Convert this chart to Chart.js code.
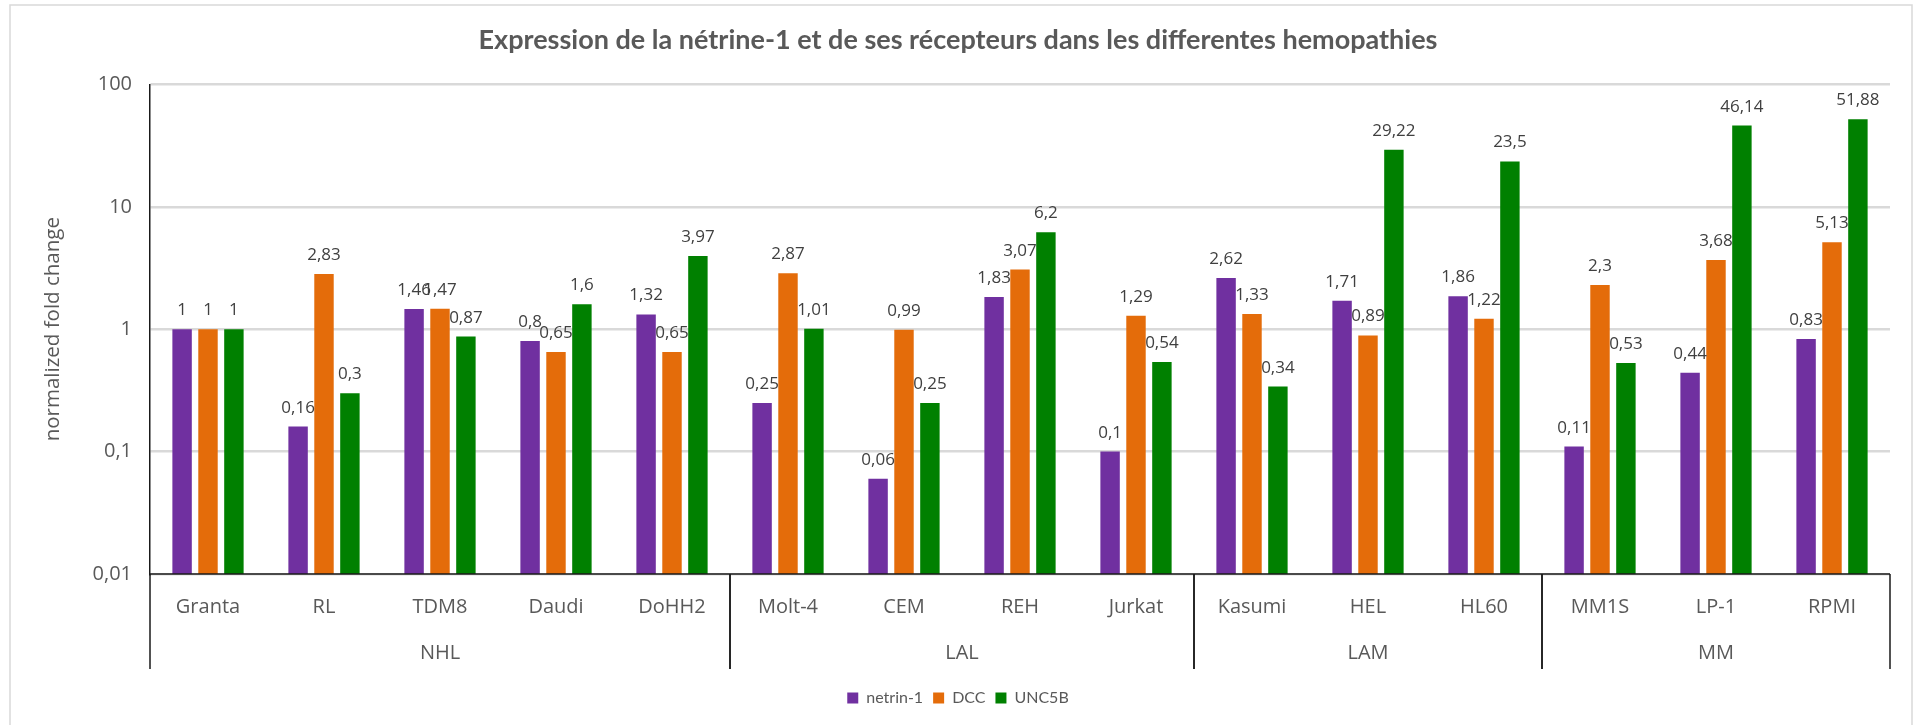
<!DOCTYPE html>
<html>
<head>
<meta charset="utf-8">
<title>Netrine-1 expression</title>
<script src="https://cdn.jsdelivr.net/npm/chart.js@4.4.1/dist/chart.umd.min.js"></script>
<style>
    html, body { margin: 0; padding: 0; background: #fff; }
</style>
</head>
<body>
<canvas id="expressionChart" width="1914" height="725"></canvas>
<script>
// Cell lines, grouped by hemopathy
const cellLines = ['Granta', 'RL', 'TDM8', 'Daudi', 'DoHH2', 'Molt-4', 'CEM', 'REH', 'Jurkat', 'Kasumi', 'HEL', 'HL60', 'MM1S', 'LP-1', 'RPMI'];
const groupNames = ['NHL', 'LAL', 'LAM', 'MM'];
const groupSizes = [5, 4, 3, 3];

// normalized fold change per receptor
const netrin1 = [1, 0.16, 1.46, 0.8, 1.32, 0.25, 0.06, 1.83, 0.1, 2.62, 1.71, 1.86, 0.11, 0.44, 0.83];
const dcc = [1, 2.83, 1.47, 0.65, 0.65, 2.87, 0.99, 3.07, 1.29, 1.33, 0.89, 1.22, 2.3, 3.68, 5.13];
const unc5b = [1, 0.3, 0.87, 1.6, 3.97, 1.01, 0.25, 6.2, 0.54, 0.34, 29.22, 23.5, 0.53, 46.14, 51.88];

const yTicks = [0.01, 0.1, 1, 10, 100];

const textGrey = '#595959';

function frNumber(v) {
    return String(v).replace('.', ',');
}

// white background + light frame around the whole chart
const framePlugin = {
    id: 'frame',
    beforeDraw(chart) {
        const c = chart.ctx;
        c.save();
        c.fillStyle = '#fff';
        c.fillRect(0, 0, chart.width, chart.height);
        c.strokeStyle = '#d9d9d9';
        c.lineWidth = 1.5;
        c.strokeRect(10, 5, chart.width - 12, chart.height + 10);
        c.restore();
    }
};

// value labels above each bar
const valueLabels = {
    id: 'valueLabels',
    afterDatasetsDraw(chart) {
        const c = chart.ctx;
        c.save();
        c.font = '17px "Open Sans"';
        c.fillStyle = '#404040';
        c.textAlign = 'center';
        c.textBaseline = 'alphabetic';
        chart.data.datasets.forEach((ds, i) => {
            chart.getDatasetMeta(i).data.forEach((bar, j) => {
                c.fillText(frNumber(ds.data[j]), bar.x, bar.y - 14);
            });
        });
        c.restore();
    }
};

// second level of the category axis (NHL / LAL / LAM / MM)
const groupAxis = {
    id: 'groupAxis',
    afterDraw(chart) {
        const c = chart.ctx;
        const x = chart.scales.x;
        const area = chart.chartArea;
        const lineBottom = area.bottom + 95;
        c.save();
        c.strokeStyle = '#1a1a1a';
        c.lineWidth = 1.5;
        c.beginPath();
        c.moveTo(area.left, area.bottom);
        c.lineTo(area.right, area.bottom);
        c.stroke();

        c.font = '20px "Open Sans"';
        c.fillStyle = textGrey;
        c.textAlign = 'center';
        c.textBaseline = 'middle';

        let start = 0;
        groupNames.forEach((name, g) => {
            const end = start + groupSizes[g];
            const x0 = x.getPixelForValue(start - 0.5);
            const x1 = x.getPixelForValue(end - 0.5);
            c.beginPath();
            c.moveTo(x0, area.bottom);
            c.lineTo(x0, lineBottom);
            c.moveTo(x1, area.bottom);
            c.lineTo(x1, lineBottom);
            c.stroke();
            c.fillText(name, (x0 + x1) / 2, area.bottom + 79);
            start = end;
        });
        c.restore();
    }
};

const ctx = document.getElementById('expressionChart');

new Chart(ctx, {
    type: 'bar',
    data: {
        labels: cellLines,
        datasets: [{
            label: 'netrin-1',
            data: netrin1,
            backgroundColor: '#7030A0'
        }, {
            label: 'DCC',
            data: dcc,
            backgroundColor: '#E46C0A'
        }, {
            label: 'UNC5B',
            data: unc5b,
            backgroundColor: '#008000'
        }]
    },
    options: {
        responsive: false,
        animation: false,
        categoryPercentage: 0.67,
        barPercentage: 0.75,
        layout: {
            padding: { left: 26, right: 24, top: 0, bottom: 9 }
        },
        plugins: {
            title: {
                display: true,
                text: 'Expression de la nétrine-1 et de ses récepteurs dans les differentes hemopathies',
                color: textGrey,
                font: { family: 'Lato', size: 27, weight: 'bold' },
                padding: { top: 24, bottom: 28 }
            },
            legend: {
                position: 'bottom',
                labels: {
                    color: textGrey,
                    font: { family: 'Lato', size: 16 },
                    boxWidth: 11,
                    boxHeight: 11,
                    padding: 10
                }
            },
            tooltip: { enabled: false }
        },
        scales: {
            x: {
                grid: { display: false, drawTicks: false },
                border: { display: false },
                ticks: {
                    color: textGrey,
                    font: { family: 'Open Sans', size: 20 },
                    padding: 21,
                    maxRotation: 0,
                    autoSkip: false
                },
                afterFit(scale) {
                    scale.height = 106;
                }
            },
            y: {
                type: 'logarithmic',
                min: 0.01,
                max: 100,
                grid: { color: '#d9d9d9', lineWidth: 2.5, drawTicks: false },
                border: { display: true, color: '#1a1a1a', width: 1.5 },
                ticks: {
                    color: textGrey,
                    font: { family: 'Open Sans', size: 20 },
                    padding: 18,
                    callback: (value) => frNumber(value)
                },
                afterBuildTicks(scale) {
                    scale.ticks = yTicks.map(v => ({ value: v }));
                },
                title: {
                    display: true,
                    text: 'normalized fold change',
                    color: textGrey,
                    font: { family: 'Open Sans', size: 20.5 },
                    padding: { top: 15, bottom: 0 }
                },
                afterFit(scale) {
                    scale.width = 124;
                }
            }
        }
    },
    plugins: [framePlugin, valueLabels, groupAxis]
});
</script>
</body>
</html>
